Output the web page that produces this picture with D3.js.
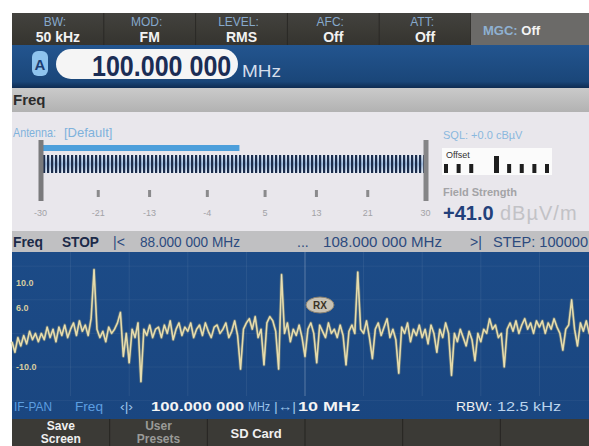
<!DOCTYPE html>
<html><head><meta charset="utf-8">
<script src="https://cdn.jsdelivr.net/npm/d3@7"></script>
<style>
html,body{margin:0;padding:0;background:#fff;overflow:hidden;}
svg{display:block;}
text{font-family:"Liberation Sans",Arial,sans-serif;}
</style></head><body>
<svg id="c" width="589" height="446"></svg>
<script>
// ---------- data ----------
const statusLabels = ["BW:", "MOD:", "LEVEL:", "AFC:", "ATT:"];
const statusValues = ["50 kHz", "FM", "RMS", "Off", "Off"];
const mgcLabel = "MGC:", mgcValue = "Off";
const frequencyText = "100.000 000";
const meterTicks = [-30, -21, -13, -4, 5, 13, 21, 30];
const meterLevel = 1;
const offsetMarks = [-4, -3, -2, 1, 2, 3, 4];
const offsetNeedle = 0;
const fieldStrength = "+41.0";
const spanStartMHz = 95, spanEndMHz = 105, stepMHz = 0.05;
const stopItems = ["Freq", "STOP", "|<", "88.000 000 MHz", "...", "108.000 000 MHz", ">|", "STEP: 100000"];
const specYTicks = [10, 4, -10];
const specYLabels = ["10.0", "6.0", "-10.0"];
const specValues = [
 -4,-6.5,-3,-5,-2.5,-4.5,-1.5,-3.5,-2,-4,
 -2,-3.5,-0.5,-3,-1,-4,-0.5,-2.5,0,-3,
 -1,0.5,-2.5,1,-1.5,0,-2.5,1.5,13.2,-1,
 -3,-1.5,-4,-0.5,-2,-1,0.5,3,-7.5,-2,
 -9,-1,-3,0.5,-13.5,-1,-2.5,0,-3,-1,
 -0.5,-3,0,-2,1,-3.5,-1,0.5,-2.5,-0.5,
 -1.5,0.5,-3,-1,0,-2.5,0.5,-1.5,-3,-0.5,
 0,-2,-1,0.5,-3,-1.5,1,-2.5,-10.5,-1,
 0.5,1.5,-1,2,-3,-1,-9.5,0.5,2,1,
 -1.5,-10.5,12,-2,0.5,-4,-1,-2.5,0,-3,
 -7.5,-1,0.5,-2,-9,0,-1.5,-3,0.5,-2,
 -1,-3,0,-2.5,-9.5,-1.5,0,-2,12.6,-1,
 -2,1,-3,-8,-1,0.5,-2.5,-0.5,1.5,-3,
 -1,-3.5,-11.5,-0.5,-2,0.5,-4,-1,-2.5,0,
 -3,-1,-4.5,0,-2,-6.5,-1,-3,0.5,-2,
 -12,-2,-4,-1,-3,-5,-1.5,-3.5,-8.5,-2,
 -4,-1,-2,1.5,-1,0,-3,-2,-10,-1,
 0.5,-1.5,1,-2,0,1.5,-1,0.5,-2,1,
 -0.5,1,-2,0.5,-1,1.5,-0.5,-2,-6,-1,
 0,6,-1,-5,0.5,-1.5,1,-2,0,-1,
 -0.5
];
const centerMHz = 100;
const ifpanItems = ["IF-PAN", "Freq", "\u2039|\u203A", "100.000 000", "MHz", "|\u2194|", "10 MHz", "RBW:", "12.5 kHz"];
const softKeys = [["Save", "Screen"], ["User", "Presets"], ["SD Card"], [], [], []];

// ---------- drawing ----------
const svg = d3.select("#c");
const defs = svg.append("defs");
function grad(id, stops){
  const g = defs.append("linearGradient").attr("id",id).attr("x1",0).attr("y1",0).attr("x2",0).attr("y2",1);
  stops.forEach(s=>g.append("stop").attr("offset",s[0]).attr("stop-color",s[1]));
}
grad("blueTop", [["0%","#23558f"],["85%","#1a4679"],["100%","#0f2c52"]]);
grad("grayBar", [["0%","#cacaca"],["100%","#b2b2b2"]]);
grad("spec", [["0%","#1c4b87"],["100%","#1a4680"]]);
grad("topBar", [["0%","#43423e"],["100%","#35342f"]]);
grad("stripeBg", [["0%","#e6eef8"],["50%","#9dbbe0"],["100%","#e6eef8"]]);

const X0 = 12, X1 = 589, XR = 598, Y0 = 13;

// top status bar
svg.append("rect").attr("x",X0).attr("y",Y0).attr("width",X1-X0).attr("height",32).attr("fill","url(#topBar)");
const cellX = d3.scaleBand().domain(d3.range(statusLabels.length)).range([X0, 471]);
const cells = svg.append("g").selectAll("g").data(statusLabels).join("g")
  .attr("transform",(d,i)=>`translate(${cellX(i)},0)`);
cells.append("line").attr("x1",cellX.bandwidth()).attr("x2",cellX.bandwidth())
  .attr("y1",Y0).attr("y2",45).attr("stroke","#2a2926").attr("stroke-width",1);
cells.append("text").attr("x",cellX.bandwidth()/2-3).attr("y",26).attr("text-anchor","middle")
  .attr("font-size",12).attr("fill","#86a9cc").text(d=>d);
cells.append("text").attr("x",cellX.bandwidth()/2).attr("y",42).attr("text-anchor","middle")
  .attr("font-size",14).attr("font-weight","bold").attr("fill","#f2f2f2").text((d,i)=>statusValues[i]);
svg.append("rect").attr("x",471).attr("y",Y0).attr("width",X1-471).attr("height",32).attr("fill","#6b6a68");
const mg = svg.append("text").attr("x",483).attr("y",35).attr("font-size",13).attr("font-weight","bold");
mg.append("tspan").attr("fill","#8fb1d2").text(mgcLabel+" ");
mg.append("tspan").attr("fill","#f4f4f4").text(mgcValue);

// frequency bar
svg.append("rect").attr("x",X0).attr("y",45).attr("width",X1-X0).attr("height",43).attr("fill","url(#blueTop)");
svg.append("rect").attr("x",32).attr("y",51).attr("width",16).attr("height",25).attr("rx",6).attr("fill","#8fc4ee");
svg.append("text").attr("x",40).attr("y",70).attr("text-anchor","middle").attr("font-size",15)
  .attr("font-weight","bold").attr("fill","#1d3f74").text("A");
svg.append("rect").attr("x",56).attr("y",49).attr("width",182).attr("height",30).attr("rx",15).attr("fill","#f5f5f5");
svg.append("text").attr("transform","translate(92,76) scale(0.835,1)").attr("font-size",30)
  .attr("font-weight","bold").attr("fill","#1b2d55").text(frequencyText);
svg.append("text").attr("transform","translate(242,77) scale(1.12,1)").attr("font-size",17)
  .attr("fill","#d4deeb").text("MHz");

// Freq header
svg.append("rect").attr("x",X0).attr("y",88).attr("width",X1-X0).attr("height",24).attr("fill","url(#grayBar)");
svg.append("text").attr("x",13).attr("y",105).attr("font-size",15).attr("font-weight","bold").attr("fill","#2b2b2b").text("Freq");

// light panel
svg.append("rect").attr("x",X0).attr("y",112).attr("width",X1-X0).attr("height",119).attr("fill","#e9e7ec");
svg.append("text").attr("x",13).attr("y",137).attr("font-size",13).attr("textLength",43).attr("lengthAdjust","spacingAndGlyphs")
  .attr("fill","#7fb2dc").text("Antenna:");
svg.append("text").attr("x",64).attr("y",137).attr("font-size",13).attr("fill","#7fb2dc").text("[Default]");

// meter
const mx = d3.scaleLinear().domain([-30,30]).range([40.5,425.5]);
svg.append("rect").attr("x",43).attr("y",145).attr("width",mx(meterLevel)-43).attr("height",6).attr("fill","#4d9fdb");
svg.append("rect").attr("x",43).attr("y",155).attr("width",382).attr("height",18).attr("fill","url(#stripeBg)");
const stripes = d3.range(43, 425, 4);
svg.append("g").selectAll("rect").data(stripes).join("rect")
  .attr("x",d=>d).attr("y",155).attr("width",2.2).attr("height",18).attr("fill","#1d2d4c");
svg.append("rect").attr("x",mx(-30)-2).attr("y",140).attr("width",5).attr("height",61).attr("fill","#7a7a7c");
svg.append("rect").attr("x",mx(30)-2).attr("y",140).attr("width",5).attr("height",61).attr("fill","#858587");
const mt = svg.append("g").selectAll("g").data(meterTicks).join("g").attr("transform",d=>`translate(${mx(d)},0)`);
mt.filter((d,i)=>i>0 && i<meterTicks.length-1).append("rect").attr("x",-1.5).attr("y",190).attr("width",3).attr("height",7).attr("fill","#8a8a8c");
mt.append("text").attr("y",216).attr("text-anchor","middle").attr("font-size",9).attr("fill","#a2a2a6").text(d=>d);

// right panel
svg.append("text").attr("x",443).attr("y",139).attr("font-size",11).attr("fill","#8ab8de").text("SQL: +0.0 cB\u00B5V");
svg.append("rect").attr("x",442).attr("y",148).attr("width",110).attr("height",27).attr("fill","#fbfbfb");
svg.append("text").attr("x",446).attr("y",158).attr("font-size",9).attr("fill","#333").text("Offset");
const ox = d3.scaleLinear().domain([-4,4]).range([446,547]);
svg.append("g").selectAll("rect").data(offsetMarks).join("rect")
  .attr("x",d=>ox(d)-2).attr("y",164).attr("width",4).attr("height",9).attr("fill","#1e1e1e");
svg.append("rect").attr("x",ox(offsetNeedle)-2.5).attr("y",156).attr("width",5).attr("height",17).attr("fill","#1e1e1e");
svg.append("text").attr("x",443).attr("y",196).attr("font-size",11).attr("font-weight","bold").attr("fill","#a3a3a6").text("Field Strength");
svg.append("text").attr("x",443).attr("y",220).attr("font-size",20).attr("font-weight","bold").attr("fill","#22407a").text(fieldStrength);
svg.append("text").attr("x",500).attr("y",220).attr("font-size",20).attr("letter-spacing",1).attr("fill","#c2c2c6").text("dB\u00B5V/m");

// stop bar
svg.append("rect").attr("x",X0).attr("y",231).attr("width",X1-X0).attr("height",21).attr("fill","#c0c0c2");
const stopX = [13, 62, 113, 140, 297, 323, 470, 493];
const stopLen = [30, 37, 0, 100, 0, 119, 0, 95];
svg.append("g").selectAll("text").data(stopItems).join("text")
  .attr("x",(d,i)=>stopX[i]).attr("y",247).attr("font-size",14)
  .each(function(d,i){ if(stopLen[i]) d3.select(this).attr("textLength",stopLen[i]).attr("lengthAdjust","spacingAndGlyphs"); })
  .attr("font-weight",(d,i)=>i<2?"bold":"normal")
  .attr("fill",(d,i)=>i<2?"#1c2a48":"#2c4a7e").text(d=>d);

// spectrum
const sx = d3.scaleLinear().domain([spanStartMHz, spanEndMHz]).range([X0, XR]);
const sy = d3.scaleLinear().domain([-10, 10]).range([367, 283]);
svg.append("rect").attr("x",X0).attr("y",252).attr("width",X1-X0).attr("height",168).attr("fill","url(#spec)");
const gridG = svg.append("g");
gridG.selectAll("line.v").data(d3.range(spanStartMHz+1, spanEndMHz, 1)).join("line")
  .attr("x1",d=>sx(d)).attr("x2",d=>sx(d)).attr("y1",252).attr("y2",396)
  .attr("stroke","#ffffff").attr("stroke-opacity",d=>d===centerMHz?0.28:0.07);
gridG.selectAll("line.h").data([14, 6, -2, -10, -18]).join("line")
  .attr("x1",X0).attr("x2",X1).attr("y1",d=>sy(d)).attr("y2",d=>sy(d))
  .attr("stroke","#ffffff").attr("stroke-opacity",0.05);
svg.append("g").selectAll("text").data(specYTicks).join("text")
  .attr("x",16).attr("y",d=>sy(d)+3).attr("font-size",9).attr("font-weight","bold")
  .attr("fill","#d6cca0").text((d,i)=>specYLabels[i]);
const line = d3.line().x((d,i)=>sx(spanStartMHz + i*stepMHz)).y(d=>sy(d));
svg.append("path").datum(specValues).attr("d",line).attr("fill","none")
  .attr("stroke","#b9ae7c").attr("stroke-width",3.2).attr("stroke-opacity",0.35).attr("stroke-linejoin","round");
svg.append("path").datum(specValues).attr("d",line).attr("fill","none")
  .attr("stroke","#dccf94").attr("stroke-width",1.6).attr("stroke-linejoin","round");
svg.append("path").datum(specValues).attr("d",line).attr("fill","none")
  .attr("stroke","#f6f2de").attr("stroke-width",0.6).attr("stroke-opacity",0.7);
// RX marker
svg.append("ellipse").attr("cx",sx(centerMHz)+15).attr("cy",305).attr("rx",14).attr("ry",8)
  .attr("fill","#c8c2b4").attr("stroke","#8a8170");
svg.append("text").attr("x",sx(centerMHz)+15).attr("y",309).attr("text-anchor","middle")
  .attr("font-size",10).attr("font-weight","bold").attr("fill","#3a3225").text("RX");

// IF-PAN line
const ifX   = [14, 75, 120, 151, 248, 274, 298, 456, 497];
const ifLen = [38, 28, 13, 93, 22, 22, 62, 36, 64];
const ifFill = ["#5d9ee0","#5d9ee0","#9cc3ea","#f4f4f4","#9cc3ea","#9cc3ea","#f4f4f4","#f0f0f0","#bcd4ee"];
const ifBold = [false,false,false,true,false,false,true,false,false];
svg.append("g").selectAll("text").data(ifpanItems).join("text")
  .attr("x",(d,i)=>ifX[i]).attr("y",411).attr("font-size",13)
  .attr("textLength",(d,i)=>ifLen[i]).attr("lengthAdjust","spacingAndGlyphs")
  .attr("font-weight",(d,i)=>ifBold[i]?"bold":"normal")
  .attr("fill",(d,i)=>ifFill[i]).text(d=>d);

// soft keys
svg.append("rect").attr("x",X0).attr("y",419).attr("width",X1-X0).attr("height",27).attr("fill","#3b3a36");
const kx = d3.scaleBand().domain(d3.range(softKeys.length)).range([X0, XR]);
const keys = svg.append("g").selectAll("g").data(softKeys).join("g").attr("transform",(d,i)=>`translate(${kx(i)},0)`);
keys.append("line").attr("x1",kx.bandwidth()).attr("x2",kx.bandwidth()).attr("y1",419).attr("y2",446)
  .attr("stroke","#262522");
keys.each(function(d,i){
  const gk = d3.select(this);
  const fill = i===1 ? "#9a9a98" : "#f0f0f0";
  if (d.length===2){
    gk.append("text").attr("x",kx.bandwidth()/2).attr("y",430).attr("text-anchor","middle")
      .attr("font-size",12).attr("font-weight","bold").attr("fill",fill).text(d[0]);
    gk.append("text").attr("x",kx.bandwidth()/2).attr("y",443).attr("text-anchor","middle")
      .attr("font-size",12).attr("font-weight","bold").attr("fill",fill).text(d[1]);
  } else if (d.length===1){
    gk.append("text").attr("x",kx.bandwidth()/2).attr("y",438).attr("text-anchor","middle")
      .attr("font-size",13).attr("font-weight","bold").attr("fill",fill).text(d[0]);
  }
});
</script>
</body></html>
